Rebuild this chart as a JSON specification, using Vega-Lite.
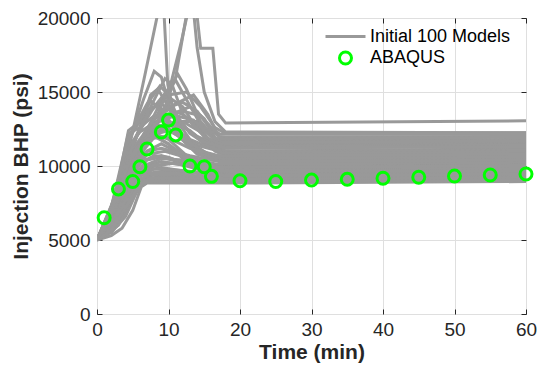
{
"$schema": "https://vega.github.io/schema/vega-lite/v6.json",
"width": 429, "height": 296,
"autosize": {"type": "none"},
"padding": {"left": 97, "top": 18, "right": 13, "bottom": 61},
"background": "white",
"config": {"font": "Liberation Sans", "view": {"stroke": "#262626", "strokeWidth": 1}},
"datasets": {
"models": [
{"m":1,"t":0,"p":5000},{"m":1,"t":2,"p":5300},{"m":1,"t":3.5,"p":5800},{"m":1,"t":5,"p":7000},{"m":1,"t":6.2,"p":8600},{"m":1,"t":7,"p":8850},{"m":1,"t":20,"p":8850},{"m":1,"t":60,"p":8950},
{"m":2,"t":0,"p":5050},{"m":2,"t":2,"p":5500},{"m":2,"t":4,"p":6600},{"m":2,"t":5.5,"p":8200},{"m":2,"t":6.5,"p":9000},{"m":2,"t":10,"p":9100},{"m":2,"t":20,"p":9000},{"m":2,"t":60,"p":9100},
{"m":3,"t":0,"p":5000},{"m":3,"t":2,"p":5800},{"m":3,"t":4,"p":7500},{"m":3,"t":5.5,"p":9000},{"m":3,"t":8,"p":9400},{"m":3,"t":12,"p":9300},{"m":3,"t":20,"p":9200},{"m":3,"t":60,"p":9300},
{"m":4,"t":0,"p":5100},{"m":4,"t":2,"p":6000},{"m":4,"t":4,"p":8000},{"m":4,"t":6,"p":9600},{"m":4,"t":9,"p":9900},{"m":4,"t":13,"p":9600},{"m":4,"t":20,"p":9450},{"m":4,"t":60,"p":9550},
{"m":5,"t":0,"p":5000},{"m":5,"t":2,"p":6400},{"m":5,"t":4,"p":8800},{"m":5,"t":6,"p":10300},{"m":5,"t":9,"p":10700},{"m":5,"t":13,"p":10100},{"m":5,"t":20,"p":9700},{"m":5,"t":60,"p":9850},
{"m":6,"t":0,"p":5050},{"m":6,"t":2,"p":6600},{"m":6,"t":4,"p":9200},{"m":6,"t":6,"p":11300},{"m":6,"t":8,"p":12200},{"m":6,"t":10,"p":11800},{"m":6,"t":13,"p":10500},{"m":6,"t":18,"p":10000},{"m":6,"t":60,"p":10150},
{"m":7,"t":0,"p":5000},{"m":7,"t":2,"p":6900},{"m":7,"t":4.3,"p":10000},{"m":7,"t":7,"p":12600},{"m":7,"t":9,"p":13200},{"m":7,"t":11,"p":12600},{"m":7,"t":14,"p":11000},{"m":7,"t":18,"p":10300},{"m":7,"t":60,"p":10450},
{"m":8,"t":0,"p":5000},{"m":8,"t":2,"p":7200},{"m":8,"t":4.4,"p":12200},{"m":8,"t":6,"p":12600},{"m":8,"t":8,"p":13400},{"m":8,"t":10,"p":13000},{"m":8,"t":12,"p":11800},{"m":8,"t":16,"p":10700},{"m":8,"t":60,"p":10850},
{"m":9,"t":0,"p":5000},{"m":9,"t":2,"p":7000},{"m":9,"t":4.4,"p":11800},{"m":9,"t":7,"p":13800},{"m":9,"t":9,"p":14200},{"m":9,"t":11,"p":13500},{"m":9,"t":13,"p":12200},{"m":9,"t":17,"p":10900},{"m":9,"t":60,"p":11100},
{"m":10,"t":0,"p":5050},{"m":10,"t":2.5,"p":7500},{"m":10,"t":5,"p":11200},{"m":10,"t":7.5,"p":14800},{"m":10,"t":8.5,"p":15200},{"m":10,"t":10,"p":14000},{"m":10,"t":12,"p":12000},{"m":10,"t":16,"p":10600},{"m":10,"t":60,"p":10750},
{"m":11,"t":0,"p":5000},{"m":11,"t":3,"p":7800},{"m":11,"t":5.5,"p":11000},{"m":11,"t":8,"p":13200},{"m":11,"t":10.5,"p":14500},{"m":11,"t":12,"p":14000},{"m":11,"t":14,"p":12500},{"m":11,"t":17,"p":11200},{"m":11,"t":60,"p":11350},
{"m":12,"t":0,"p":5000},{"m":12,"t":3,"p":7500},{"m":12,"t":6,"p":11500},{"m":12,"t":9,"p":14400},{"m":12,"t":11,"p":15800},{"m":12,"t":12.5,"p":14500},{"m":12,"t":14.5,"p":12800},{"m":12,"t":17.5,"p":11500},{"m":12,"t":60,"p":11650},
{"m":13,"t":0,"p":5000},{"m":13,"t":2.5,"p":6700},{"m":13,"t":5,"p":9800},{"m":13,"t":7,"p":11500},{"m":13,"t":8,"p":12000},{"m":13,"t":10,"p":11500},{"m":13,"t":12,"p":10500},{"m":13,"t":16,"p":9800},{"m":13,"t":60,"p":9950},
{"m":14,"t":0,"p":5100},{"m":14,"t":3,"p":7000},{"m":14,"t":5.5,"p":10000},{"m":14,"t":7.5,"p":12100},{"m":14,"t":9.5,"p":12600},{"m":14,"t":11.5,"p":12000},{"m":14,"t":14,"p":10800},{"m":14,"t":18,"p":10200},{"m":14,"t":60,"p":10350},
{"m":15,"t":0,"p":5000},{"m":15,"t":3,"p":6500},{"m":15,"t":5,"p":8600},{"m":15,"t":6.5,"p":9600},{"m":15,"t":8,"p":10000},{"m":15,"t":11,"p":10200},{"m":15,"t":14,"p":9800},{"m":15,"t":18,"p":9600},{"m":15,"t":60,"p":9700},
{"m":16,"t":0,"p":5000},{"m":16,"t":3,"p":6200},{"m":16,"t":5,"p":8200},{"m":16,"t":6.5,"p":9100},{"m":16,"t":9,"p":9300},{"m":16,"t":20,"p":9150},{"m":16,"t":60,"p":9250},
{"m":17,"t":0,"p":5000},{"m":17,"t":3,"p":6000},{"m":17,"t":5,"p":7800},{"m":17,"t":6.5,"p":9000},{"m":17,"t":8,"p":9200},{"m":17,"t":20,"p":9050},{"m":17,"t":60,"p":9150},
{"m":18,"t":0,"p":5000},{"m":18,"t":2,"p":6800},{"m":18,"t":4.4,"p":11000},{"m":18,"t":7,"p":13500},{"m":18,"t":10,"p":14800},{"m":18,"t":12.5,"p":15000},{"m":18,"t":14.5,"p":14000},{"m":18,"t":16.5,"p":12600},{"m":18,"t":18,"p":12200},{"m":18,"t":60,"p":12250},
{"m":19,"t":0,"p":5000},{"m":19,"t":3,"p":8200},{"m":19,"t":5,"p":10800},{"m":19,"t":8,"p":13200},{"m":19,"t":11,"p":14200},{"m":19,"t":13.5,"p":14800},{"m":19,"t":15.5,"p":13500},{"m":19,"t":17,"p":12000},{"m":19,"t":18,"p":11950},{"m":19,"t":60,"p":12000},
{"m":20,"t":0,"p":5000},{"m":20,"t":2.5,"p":7400},{"m":20,"t":5,"p":11000},{"m":20,"t":8,"p":12800},{"m":20,"t":11,"p":13600},{"m":20,"t":13,"p":14000},{"m":20,"t":15,"p":13200},{"m":20,"t":16.5,"p":11900},{"m":20,"t":18,"p":11700},{"m":20,"t":60,"p":11800},
{"m":21,"t":0,"p":5000},{"m":21,"t":3,"p":8300},{"m":21,"t":5,"p":10900},{"m":21,"t":8,"p":12500},{"m":21,"t":11,"p":13000},{"m":21,"t":14,"p":13000},{"m":21,"t":16,"p":12000},{"m":21,"t":17.5,"p":11500},{"m":21,"t":60,"p":11550},
{"m":22,"t":0,"p":5000},{"m":22,"t":2,"p":7300},{"m":22,"t":4.4,"p":11000},{"m":22,"t":6.7,"p":16150},{"m":22,"t":8.8,"p":21000},{"m":22,"t":9.3,"p":21000},{"m":22,"t":9.9,"p":15500},{"m":22,"t":11,"p":13000},{"m":22,"t":14,"p":12000},{"m":22,"t":17,"p":11400},{"m":22,"t":60,"p":11500},
{"m":23,"t":0,"p":5000},{"m":23,"t":3,"p":8000},{"m":23,"t":6,"p":11500},{"m":23,"t":8.5,"p":13500},{"m":23,"t":10.4,"p":15700},{"m":23,"t":11.8,"p":18400},{"m":23,"t":13.2,"p":21500},{"m":23,"t":13.8,"p":21000},{"m":23,"t":14.5,"p":17950},{"m":23,"t":16.2,"p":17950},{"m":23,"t":17,"p":13500},{"m":23,"t":18,"p":12900},{"m":23,"t":60,"p":13050},
{"m":24,"t":0,"p":5000},{"m":24,"t":3,"p":7800},{"m":24,"t":6,"p":11000},{"m":24,"t":9,"p":13300},{"m":24,"t":11,"p":16000},{"m":24,"t":12.8,"p":21000},{"m":24,"t":13.4,"p":21000},{"m":24,"t":14,"p":18000},{"m":24,"t":15,"p":15000},{"m":24,"t":16.5,"p":13000},{"m":24,"t":18,"p":12300},{"m":24,"t":60,"p":12250},
{"m":25,"t":0,"p":5000},{"m":25,"t":2,"p":7000},{"m":25,"t":4.4,"p":11500},{"m":25,"t":6.5,"p":14500},{"m":25,"t":8,"p":16400},{"m":25,"t":9,"p":16000},{"m":25,"t":10.5,"p":13500},{"m":25,"t":13,"p":11800},{"m":25,"t":17,"p":11000},{"m":25,"t":60,"p":11150},
{"m":26,"t":0,"p":5000},{"m":26,"t":3,"p":8500},{"m":26,"t":5.5,"p":12000},{"m":26,"t":8,"p":14000},{"m":26,"t":10,"p":15200},{"m":26,"t":11.3,"p":16200},{"m":26,"t":12.5,"p":15200},{"m":26,"t":14.5,"p":13000},{"m":26,"t":17,"p":11600},{"m":26,"t":60,"p":11700},
{"m":27,"t":0,"p":5050},{"m":27,"t":2.5,"p":7200},{"m":27,"t":5,"p":10600},{"m":27,"t":8,"p":13200},{"m":27,"t":10,"p":13800},{"m":27,"t":12,"p":13500},{"m":27,"t":14.5,"p":12500},{"m":27,"t":16.5,"p":11300},{"m":27,"t":18,"p":11000},{"m":27,"t":60,"p":11100},
{"m":28,"t":0,"p":5000},{"m":28,"t":3,"p":7600},{"m":28,"t":6,"p":10800},{"m":28,"t":9,"p":12500},{"m":28,"t":12,"p":13000},{"m":28,"t":14.5,"p":12300},{"m":28,"t":16.5,"p":11000},{"m":28,"t":18,"p":10800},{"m":28,"t":60,"p":10900},
{"m":29,"t":0,"p":5000},{"m":29,"t":2.5,"p":7800},{"m":29,"t":4.4,"p":12400},{"m":29,"t":6,"p":13000},{"m":29,"t":7.5,"p":14400},{"m":29,"t":9,"p":13800},{"m":29,"t":11,"p":12500},{"m":29,"t":14,"p":11400},{"m":29,"t":18,"p":10900},{"m":29,"t":60,"p":11050},
{"m":30,"t":0,"p":5000},{"m":30,"t":3,"p":7000},{"m":30,"t":5,"p":9600},{"m":30,"t":7,"p":11000},{"m":30,"t":9,"p":11500},{"m":30,"t":11,"p":11000},{"m":30,"t":13,"p":10200},{"m":30,"t":17,"p":9700},{"m":30,"t":60,"p":9850},
{"m":31,"t":0,"p":5000},{"m":31,"t":3,"p":6800},{"m":31,"t":5,"p":9200},{"m":31,"t":7,"p":10400},{"m":31,"t":9,"p":10600},{"m":31,"t":12,"p":10200},{"m":31,"t":16,"p":9700},{"m":31,"t":20,"p":9600},{"m":31,"t":60,"p":9700},
{"m":32,"t":0,"p":5000},{"m":32,"t":3,"p":7400},{"m":32,"t":5,"p":10300},{"m":32,"t":7.5,"p":12000},{"m":32,"t":10,"p":12500},{"m":32,"t":12,"p":12000},{"m":32,"t":15,"p":10900},{"m":32,"t":18,"p":10400},{"m":32,"t":60,"p":10550},
{"m":33,"t":0,"p":5000},{"m":33,"t":2.5,"p":7300},{"m":33,"t":4.4,"p":11300},{"m":33,"t":6,"p":12300},{"m":33,"t":8,"p":12900},{"m":33,"t":10.5,"p":12400},{"m":33,"t":13,"p":11300},{"m":33,"t":16,"p":10400},{"m":33,"t":60,"p":10500},
{"m":34,"t":0,"p":5000},{"m":34,"t":3,"p":7900},{"m":34,"t":6,"p":11800},{"m":34,"t":9,"p":13800},{"m":34,"t":12,"p":14300},{"m":34,"t":14,"p":13700},{"m":34,"t":16,"p":12400},{"m":34,"t":17.5,"p":11800},{"m":34,"t":60,"p":11950},
{"m":35,"t":0,"p":5000},{"m":35,"t":2,"p":6300},{"m":35,"t":4,"p":8700},{"m":35,"t":6,"p":10200},{"m":35,"t":8,"p":10700},{"m":35,"t":10,"p":10600},{"m":35,"t":13,"p":10000},{"m":35,"t":17,"p":9400},{"m":35,"t":60,"p":9500},
{"m":36,"t":0,"p":5000},{"m":36,"t":2.5,"p":6200},{"m":36,"t":4.5,"p":8400},{"m":36,"t":6.5,"p":9900},{"m":36,"t":9,"p":10300},{"m":36,"t":13,"p":10000},{"m":36,"t":17,"p":9300},{"m":36,"t":60,"p":9400},
{"m":37,"t":0,"p":5000},{"m":37,"t":2,"p":7000},{"m":37,"t":4.3,"p":10800},{"m":37,"t":6,"p":11800},{"m":37,"t":7.5,"p":12200},{"m":37,"t":9,"p":11800},{"m":37,"t":12,"p":10800},{"m":37,"t":16,"p":10100},{"m":37,"t":60,"p":10250},
{"m":38,"t":0,"p":5000},{"m":38,"t":3,"p":8100},{"m":38,"t":6,"p":11700},{"m":38,"t":8.5,"p":13000},{"m":38,"t":11,"p":13400},{"m":38,"t":13.5,"p":13100},{"m":38,"t":15.5,"p":12200},{"m":38,"t":17.5,"p":11300},{"m":38,"t":60,"p":11450},
{"m":39,"t":0,"p":5000},{"m":39,"t":3,"p":7700},{"m":39,"t":5.5,"p":11200},{"m":39,"t":8,"p":12600},{"m":39,"t":10.5,"p":12900},{"m":39,"t":13,"p":12400},{"m":39,"t":15.5,"p":11400},{"m":39,"t":18,"p":10800},{"m":39,"t":60,"p":10950},
{"m":40,"t":0,"p":5000},{"m":40,"t":3.5,"p":8500},{"m":40,"t":6,"p":11500},{"m":40,"t":9,"p":13400},{"m":40,"t":12,"p":13700},{"m":40,"t":14.5,"p":13400},{"m":40,"t":16.2,"p":12500},{"m":40,"t":17.2,"p":12150},{"m":40,"t":60,"p":12150},
{"m":41,"t":0,"p":5000},{"m":41,"t":2,"p":6600},{"m":41,"t":4.4,"p":10200},{"m":41,"t":7,"p":12000},{"m":41,"t":10,"p":12400},{"m":41,"t":13,"p":11600},{"m":41,"t":16,"p":10500},{"m":41,"t":60,"p":10650},
{"m":42,"t":0,"p":5000},{"m":42,"t":2.5,"p":6500},{"m":42,"t":5,"p":9400},{"m":42,"t":7,"p":10800},{"m":42,"t":9.5,"p":11000},{"m":42,"t":13,"p":10500},{"m":42,"t":17,"p":9900},{"m":42,"t":60,"p":10050},
{"m":43,"t":0,"p":5000},{"m":43,"t":2.5,"p":7600},{"m":43,"t":5,"p":11400},{"m":43,"t":7.5,"p":14000},{"m":43,"t":9.5,"p":15900},{"m":43,"t":10.5,"p":15500},{"m":43,"t":12,"p":13500},{"m":43,"t":15,"p":12000},{"m":43,"t":18,"p":11300},{"m":43,"t":60,"p":11400},
{"m":44,"t":0,"p":5000},{"m":44,"t":2,"p":7100},{"m":44,"t":4.4,"p":11900},{"m":44,"t":7,"p":14200},{"m":44,"t":8.8,"p":15400},{"m":44,"t":10,"p":14800},{"m":44,"t":11.5,"p":13000},{"m":44,"t":14.5,"p":11700},{"m":44,"t":18,"p":11200},{"m":44,"t":60,"p":11300},
{"m":45,"t":0,"p":5000},{"m":45,"t":2,"p":5600},{"m":45,"t":4,"p":7000},{"m":45,"t":5.5,"p":8600},{"m":45,"t":7,"p":9500},{"m":45,"t":10,"p":9700},{"m":45,"t":16,"p":9400},{"m":45,"t":60,"p":9500},
{"m":46,"t":0,"p":5000},{"m":46,"t":2,"p":5900},{"m":46,"t":4,"p":7800},{"m":46,"t":6,"p":9300},{"m":46,"t":8,"p":9800},{"m":46,"t":12,"p":9700},{"m":46,"t":18,"p":9350},{"m":46,"t":60,"p":9450},
{"m":47,"t":0,"p":5000},{"m":47,"t":1.5,"p":5600},{"m":47,"t":3.5,"p":7400},{"m":47,"t":5,"p":8900},{"m":47,"t":7,"p":9900},{"m":47,"t":10,"p":10200},{"m":47,"t":15,"p":9900},{"m":47,"t":60,"p":10000},
{"m":48,"t":0,"p":5000},{"m":48,"t":2.5,"p":6000},{"m":48,"t":4.5,"p":7900},{"m":48,"t":6,"p":9100},{"m":48,"t":7.5,"p":9500},{"m":48,"t":11,"p":9500},{"m":48,"t":18,"p":9100},{"m":48,"t":60,"p":9200},
{"m":49,"t":0,"p":5000},{"m":49,"t":3,"p":6600},{"m":49,"t":5,"p":8900},{"m":49,"t":7,"p":10100},{"m":49,"t":9,"p":10500},{"m":49,"t":12,"p":10400},{"m":49,"t":17,"p":9900},{"m":49,"t":60,"p":10000},
{"m":50,"t":0,"p":5000},{"m":50,"t":1.5,"p":6000},{"m":50,"t":3.5,"p":8400},{"m":50,"t":5,"p":10000},{"m":50,"t":7,"p":11000},{"m":50,"t":9,"p":11200},{"m":50,"t":13,"p":10700},{"m":50,"t":17,"p":10300},{"m":50,"t":60,"p":10400},
{"m":51,"t":0,"p":5000},{"m":51,"t":2,"p":5700},{"m":51,"t":4,"p":7200},{"m":51,"t":5.5,"p":8400},{"m":51,"t":6.5,"p":8900},{"m":51,"t":9,"p":9000},{"m":51,"t":20,"p":8950},{"m":51,"t":60,"p":9050},
{"m":52,"t":0,"p":5000},{"m":52,"t":1.5,"p":6200},{"m":52,"t":3.5,"p":9000},{"m":52,"t":5,"p":10800},{"m":52,"t":7,"p":11800},{"m":52,"t":9.5,"p":12000},{"m":52,"t":13,"p":11200},{"m":52,"t":17,"p":10700},{"m":52,"t":60,"p":10800}
],
"abaqus": [
{"t":1,"p":6500},{"t":3,"p":8450},{"t":5,"p":8950},{"t":6,"p":9950},{"t":7,"p":11150},{"t":9,"p":12300},{"t":10,"p":13100},{"t":11,"p":12100},{"t":13,"p":10000},{"t":15,"p":9950},{"t":16,"p":9300},{"t":20,"p":9000},{"t":25,"p":8950},{"t":30,"p":9050},{"t":35,"p":9100},{"t":40,"p":9170},{"t":45,"p":9240},{"t":50,"p":9320},{"t":55,"p":9390},{"t":60,"p":9460}
]
},
"layer": [
{
"data": {"name": "models"},
"mark": {"type": "line", "strokeWidth": 3, "clip": true},
"encoding": {
"x": {"field": "t", "type": "quantitative", "scale": {"domain": [0, 60], "nice": false},
 "axis": {"values": [0,10,20,30,40,50,60], "title": "Time (min)", "grid": true, "gridColor": "#dfdfdf", "gridWidth": 1, "domain": false, "tickSize": -5, "tickColor": "#262626", "labelPadding": 11, "labelFontSize": 19, "labelColor": "#262626", "labelFlush": false, "labelOverlap": false, "titleFontSize": 21, "titleFontWeight": "bold", "titleColor": "#262626", "titlePadding": 2}},
"y": {"field": "p", "type": "quantitative", "scale": {"domain": [0, 20000], "nice": false},
 "axis": {"values": [0,5000,10000,15000,20000], "format": "d", "title": "Injection BHP (psi)", "grid": true, "gridColor": "#dfdfdf", "gridWidth": 1, "domain": false, "tickSize": -5, "tickColor": "#262626", "labelPadding": 12, "labelFontSize": 19, "labelColor": "#262626", "labelFlush": false, "labelOverlap": false, "titleFontSize": 21, "titleFontWeight": "bold", "titleColor": "#262626", "titlePadding": 6}},
"detail": {"field": "m", "type": "nominal"},
"color": {"datum": "Initial 100 Models", "scale": {"domain": ["Initial 100 Models", "ABAQUS"], "range": ["#999999", "#00ff00"]},
 "legend": {"title": null, "orient": "none", "legendX": 227, "legendY": -3, "padding": 0, "labelFontSize": 18, "labelColor": "#000000", "labelOffset": 3, "symbolStrokeWidth": 3, "symbolOpacity": 1, "rowPadding": 0}}
}
},
{
"data": {"name": "abaqus"},
"mark": {"type": "point", "filled": false, "strokeWidth": 3, "opacity": 1},
"encoding": {
"x": {"field": "t", "type": "quantitative", "axis": {"orient": "top", "values": [0,10,20,30,40,50,60], "labels": false, "title": null, "grid": false, "domain": false, "tickSize": -5, "tickColor": "#262626"}},
"y": {"field": "p", "type": "quantitative", "axis": {"orient": "right", "values": [0,5000,10000,15000,20000], "labels": false, "title": null, "grid": false, "domain": false, "tickSize": -5, "tickColor": "#262626"}},
"color": {"datum": "ABAQUS"},
"shape": {"datum": "ABAQUS", "scale": {"type": "ordinal", "domain": ["Initial 100 Models", "ABAQUS"], "range": ["stroke", "circle"]},
 "legend": {"title": null, "orient": "none", "legendX": 227, "legendY": -3, "padding": 0, "labelFontSize": 18, "labelColor": "#000000", "labelOffset": 3, "symbolStrokeWidth": 3, "symbolOpacity": 1, "rowPadding": 0}},
"size": {"datum": "ABAQUS", "scale": {"type": "ordinal", "domain": ["Initial 100 Models", "ABAQUS"], "range": [1600, 144]},
 "legend": {"title": null, "orient": "none", "legendX": 227, "legendY": -3, "padding": 0, "labelFontSize": 18, "labelColor": "#000000", "labelOffset": 3, "symbolStrokeWidth": 3, "symbolOpacity": 1, "rowPadding": 0}}
}
}
],
"resolve": {"axis": {"x": "independent", "y": "independent"}}
}
